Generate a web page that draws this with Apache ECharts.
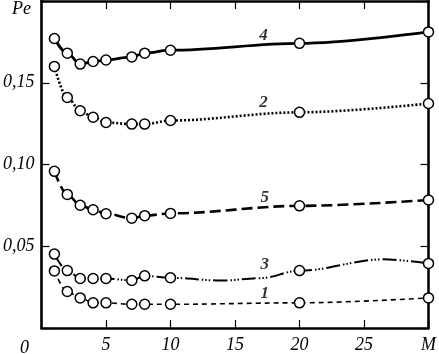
<!DOCTYPE html>
<html><head><meta charset="utf-8">
<script src="https://cdn.jsdelivr.net/npm/echarts@6/dist/echarts.min.js"></script>
<style>html,body{margin:0;padding:0;background:#fff}#c{width:439px;height:354px}</style>
</head><body><div id="c"></div>
<script>
const xs = [1, 2, 3, 4, 5, 7, 8, 10, 20, 30];
const s4 = [0.1771, 0.1681, 0.1614, 0.1630, 0.1639, 0.1658, 0.1681, 0.1699, 0.1741, 0.1811];
const s2 = [0.1600, 0.1410, 0.1329, 0.1289, 0.1257, 0.1247, 0.1247, 0.1269, 0.1319, 0.1373];
const s5 = [0.0958, 0.0817, 0.0751, 0.0723, 0.0699, 0.0672, 0.0687, 0.0701, 0.0747, 0.0783];
const s3 = [0.0452, 0.0351, 0.0303, 0.0303, 0.0303, 0.0291, 0.0319, 0.0307, 0.0351, 0.0395];
const s1 = [0.0349, 0.0223, 0.0184, 0.0154, 0.0154, 0.0145, 0.0145, 0.0145, 0.0154, 0.0184];
// curve 3 unmarked shape points between markers
const s3ExtraX = [14, 17, 26.5];
const s3ExtraY = [0.0290, 0.0305, 0.0420];
const curveNames = ['4', '2', '5', '3', '1'];
const curveLabelX = [17.2, 17.2, 17.3, 17.3, 17.3];
const curveLabelY = [0.179, 0.138, 0.0797, 0.0387, 0.0212];
const xTicks = [0, 5, 10, 15, 20, 25, 30];
const xTickText = ['', '5', '10', '15', '20', '25', 'M'];
const yTickText = {'0.05': '0,05', '0.1': '0,10', '0.15': '0,15'};

function pts(ys) { return xs.map((x, i) => [x, ys[i]]); }
function pts3() {
  const arr = pts(s3);
  s3ExtraX.forEach((x, i) => arr.push({value: [x, s3ExtraY[i]], symbol: 'none'}));
  arr.sort((a, b) => (Array.isArray(a) ? a[0] : a.value[0]) - (Array.isArray(b) ? b[0] : b.value[0]));
  return arr;
}
const font = '"Liberation Serif", "DejaVu Serif", serif';
const sym = {symbol: 'circle', symbolSize: 10, itemStyle: {color: '#fff', borderColor: '#000', borderWidth: 1.5}};
function line(data, lw, type, z) {
  return Object.assign({type: 'line', data: data, smooth: 0.35, smoothMonotone: 'x', showAllSymbol: true,
    lineStyle: {color: '#000', width: lw, type: type}, z: z, animation: false}, sym);
}
const chart = echarts.init(document.getElementById('c'));
const axisCommon = {
  axisLine: {show: true, onZero: false, lineStyle: {color: '#000', width: 2.6}},
  axisTick: {show: true, inside: true, length: 8, lineStyle: {color: '#000', width: 1.2}},
  splitLine: {show: false}
};
chart.setOption({
  animation: false,
  grid: {left: 38, right: 5, top: 1, bottom: 22, containLabel: false},
  xAxis: [
    Object.assign({type: 'value', min: 0, max: 30, interval: 5, position: 'bottom',
      axisLabel: {fontFamily: font, fontStyle: 'italic', fontSize: 18, color: '#000', margin: 8,
        formatter: v => xTickText[xTicks.indexOf(v)] ?? ''}}, axisCommon),
    Object.assign({type: 'value', min: 0, max: 30, interval: 5, position: 'top',
      axisLabel: {show: false}}, axisCommon)
  ],
  yAxis: [
    Object.assign({type: 'value', min: 0, max: 0.2, interval: 0.05, position: 'left',
      axisLabel: {fontFamily: font, fontStyle: 'italic', fontSize: 18, color: '#000', margin: 7,
        formatter: v => yTickText[String(Math.round(v * 100) / 100)] ?? ''}}, axisCommon),
    Object.assign({type: 'value', min: 0, max: 0.2, interval: 0.05, position: 'right',
      axisLabel: {show: false}}, axisCommon)
  ],
  graphic: [
    {type: 'text', left: 12, top: 0, style: {text: 'Pe', font: 'italic 18px ' + font, fill: '#000'}},
    {type: 'text', left: 20, top: 339, style: {text: '0', font: 'italic 18px ' + font, fill: '#000'}}
  ],
  series: [
    line(pts(s4), 2.8, 'solid', 5),
    line(pts(s2), 2.6, [2, 2], 5),
    line(pts(s5), 2.6, [11, 5], 5),
    line(pts3(), 2, [14, 3, 1.5, 2, 1.5, 2, 1.5, 3], 5),
    line(pts(s1), 1.6, [5, 4], 5),
    {type: 'scatter', symbolSize: 0, animation: false,
      data: curveNames.map((n, i) => ({value: [curveLabelX[i], curveLabelY[i]], name: n})),
      label: {show: true, position: 'inside', formatter: p => p.name,
        fontFamily: font, fontStyle: 'italic', fontWeight: 'bold', fontSize: 17, color: '#000'}}
  ]
});
</script></body></html>
